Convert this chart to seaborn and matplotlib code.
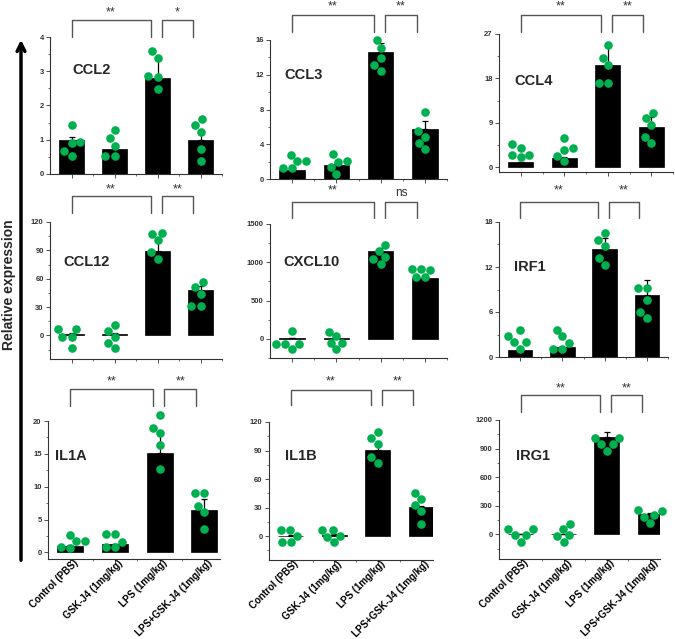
import numpy as np
import pandas as pd
import matplotlib
matplotlib.use("Agg")
import matplotlib.pyplot as plt
import seaborn as sns
from matplotlib.ticker import MultipleLocator, FixedLocator
from matplotlib.transforms import blended_transform_factory, ScaledTranslation

# ---------------- data ----------------
groups = ["Control (PBS)", "GSK-J4 (1mg/kg)", "LPS (1mg/kg)", "LPS+GSK-J4 (1mg/kg)"]
genes = ["CCL2", "CCL3", "CCL4", "CCL12", "CXCL10", "IRF1", "IL1A", "IL1B", "IRG1"]

CCL2_mean = [1.0, 0.74, 2.80, 0.98]
CCL2_err = [0.07, 0.03, 0.54, 0.19]
CCL2_pts = [[1.43, 0.93, 0.90, 0.68, 0.53], [1.29, 1.05, 0.83, 0.54, 0.53],
            [3.59, 3.40, 2.86, 2.84, 2.48], [1.60, 1.44, 1.24, 0.73, 0.37]]

CCL3_mean = [1.0, 1.58, 14.6, 5.73]
CCL3_err = [0.1, 0.2, 1.1, 0.92]
CCL3_pts = [[2.8, 2.1, 2.08, 1.3, 1.27], [2.85, 2.08, 2.0, 1.38, 0.58],
            [16.0, 15.1, 13.9, 13.1, 12.46], [7.73, 5.54, 4.85, 4.15, 3.42]]

CCL4_mean = [0.95, 1.84, 20.8, 8.16]
CCL4_err = [0.1, 0.3, 3.55, 1.9]
CCL4_pts = [[4.6, 3.9, 2.5, 2.5, 2.0], [5.8, 3.9, 3.4, 2.3, 1.16],
            [24.7, 22.2, 20.7, 17.1, 17.1], [11.0, 9.9, 8.5, 6.1, 4.8]]

CCL12_mean = [1.0, 1.0, 89.7, 47.9]
CCL12_err = [1.0, 1.0, 9.2, 4.5]
CCL12_pts = [[6.3, 6.3, -1.4, -1.4, -13.7], [10.6, 4.6, -1.4, -7.7, -13.7],
             [108.4, 107.7, 100.6, 88.0, 81.3], [56.7, 51.4, 44.0, 31.0, 31.0]]

CXCL10_mean = [5, 5, 1143, 791]
CXCL10_err = [5, 5, 40, 15]
CXCL10_pts = [[109, -65, -65, -65, -135], [96, 39, -48, -48, -135],
              [1226, 1148, 1074, 1039, 978], [913, 913, 900, 804, 804]]

IRF1_mean = [0.93, 1.29, 14.44, 8.22]
IRF1_err = [0.1, 0.1, 1.43, 2.08]
IRF1_pts = [[3.64, 2.76, 1.96, 1.96, 1.07], [3.64, 2.76, 1.87, 1.07, 1.07],
            [16.5, 15.6, 14.76, 13.2, 12.3], [9.2, 9.2, 7.6, 6.0, 5.2]]

IL1A_mean = [1.02, 1.22, 15.08, 6.45]
IL1A_err = [0.1, 0.1, 3.02, 1.62]
IL1A_pts = [[2.64, 1.78, 1.73, 0.86, 0.71], [2.74, 2.74, 1.62, 0.86, 0.86],
            [20.9, 19.0, 18.1, 16.4, 12.7], [9.1, 9.1, 7.1, 6.2, 3.5]]

IL1B_mean = [0.7, 1.4, 90.7, 30.7]
IL1B_err = [0.5, 0.5, 6.0, 1.0]
IL1B_pts = [[6.35, 6.35, 0.35, -6.35, -6.35], [6.7, 6.7, 0.7, -0.35, -6.35],
            [109.4, 103.1, 96.7, 83.0, 77.3], [45.5, 38.8, 32.5, 26.1, 12.4]]

IRG1_mean = [0, 0, 1025, 213]
IRG1_err = [5, 5, 53, 10]
IRG1_pts = [[52, 52, -7, -7, -77], [108, 52, -7, -17, -77],
            [1008, 1008, 945, 945, 875], [255, 245, 200, 182, 119]]

y_limits = [(0, 4), (0, 16), (-1, 27), (-25, 120), (-250, 1500), (0, 18),
            (-1, 20), (-25, 120), (-260, 1200)]
y_steps = [1, 4, 9, 30, 500, 6, 5, 30, 300]
sig_labels = [["**", "*"], ["**", "**"], ["**", "**"], ["**", "**"], ["**", "ns"],
              ["**", "**"], ["**", "**"], ["**", "**"], ["**", "**"]]

means = [CCL2_mean, CCL3_mean, CCL4_mean, CCL12_mean, CXCL10_mean, IRF1_mean,
         IL1A_mean, IL1B_mean, IRG1_mean]
errs = [CCL2_err, CCL3_err, CCL4_err, CCL12_err, CXCL10_err, IRF1_err,
        IL1A_err, IL1B_err, IRG1_err]
pts = [CCL2_pts, CCL3_pts, CCL4_pts, CCL12_pts, CXCL10_pts, IRF1_pts,
       IL1A_pts, IL1B_pts, IRG1_pts]

# ---------------- layout (pixels) ----------------
W, H = 675, 639
rects = [(50, 37, 222, 174), (270, 40, 447, 179), (499, 34, 673, 172),
         (50, 222, 222, 359), (270, 224, 447, 358), (499, 222, 668, 357),
         (48, 421, 220, 559), (269, 422, 433, 560), (499, 420, 660, 559)]
x_right = [3.5, 3.5, 3.5, 3.5, 3.5, 3.5, 3.35, 3.27, 3.23]
brackets = [(10, 20, 37), (4, 15, 32), (4, 15, 32),
            (187, 196, 213), (188, 202, 218), (188, 202, 218),
            (379, 389, 406), (379, 390, 405), (386, 395, 412)]
label_pos = [(0.13, 0.76), (0.08, 0.75), (0.086, 0.66),
             (0.077, 0.71), (0.073, 0.72), (0.09, 0.67),
             (0.04, 0.75), (0.10, 0.75), (0.105, 0.74)]

sns.set_style("ticks")
plt.rcParams["font.family"] = ["Liberation Sans", "DejaVu Sans"]

fig = plt.figure(figsize=(W / 100, H / 100), dpi=100)
GREEN = "#00B050"
DARK = "#333333"
label_shift = ScaledTranslation(6 / 100, 6 / 100, fig.dpi_scale_trans)

for i, gene in enumerate(genes):
    l, t, r, b = rects[i]
    ax = fig.add_axes([l / W, 1 - b / H, (r - l) / W, (b - t) / H])
    sns.barplot(x=groups, y=means[i], order=groups, color="black", saturation=1,
                width=0.58, errorbar=None, edgecolor="black", linewidth=0.5, ax=ax)
    centers = [p.get_x() + p.get_width() / 2 for p in ax.patches]
    ax.errorbar(centers, means[i], yerr=[np.zeros(4), errs[i]], fmt="none",
                ecolor="black", elinewidth=0.9, capsize=2.2, capthick=0.9, zorder=2)
    df = pd.DataFrame({"g": np.repeat(groups, 5), "v": np.concatenate(pts[i])})
    sns.swarmplot(data=df, x="g", y="v", order=groups, color=GREEN, size=6.2,
                  linewidth=0, ax=ax, zorder=3, warn_thresh=1)
    for c in ax.collections:
        c.set_clip_on(False)

    ax.set_xlim(-0.5, x_right[i])
    ax.set_ylim(*y_limits[i])
    ax.yaxis.set_major_locator(MultipleLocator(y_steps[i]))
    ax.yaxis.set_minor_locator(MultipleLocator(y_steps[i] / 2))
    ax.set_xticks(range(4))
    ax.xaxis.set_minor_locator(FixedLocator([0.5, 1.5, 2.5, 3.5]))
    ax.set_xlabel("")
    ax.set_ylabel("")
    for s in ["top", "right"]:
        ax.spines[s].set_visible(False)
    for s in ["left", "bottom"]:
        ax.spines[s].set_linewidth(0.8)
        ax.spines[s].set_color(DARK)
    ax.tick_params(which="major", length=3, width=0.6, color=DARK,
                   labelsize=5.5, labelcolor=DARK, pad=1.5)
    ax.tick_params(which="minor", length=1.6, width=0.5, color=DARK)
    for lab in ax.get_yticklabels():
        lab.set_fontweight("bold")
    if i >= 6:
        ax.set_xticklabels(groups, rotation=45, ha="right", va="center",
                           rotation_mode="anchor", fontsize=7,
                           fontweight="bold", color="black")
        ax.tick_params(axis="x", which="major", pad=3)
        for lab in ax.get_xticklabels():
            lab.set_transform(lab.get_transform() + label_shift)
    else:
        ax.set_xticklabels([])

    ax.text(label_pos[i][0], label_pos[i][1], gene, transform=ax.transAxes,
            fontsize=10.5, fontweight="bold", ha="left", va="center")

    trans = blended_transform_factory(ax.transData, fig.transFigure)
    sy, ty, by = brackets[i]
    for (x0, x1), lab in zip([(0.0, 1.84), (2.1, 2.82)], sig_labels[i]):
        ax.plot([x0, x0, x1, x1], [1 - by / H, 1 - ty / H, 1 - ty / H, 1 - by / H],
                color="#555555", lw=1.0, transform=trans, clip_on=False)
        is_ns = lab == "ns"
        ax.text((x0 + x1) / 2, 1 - (sy + (5 if is_ns else 2)) / H, lab,
                transform=trans, ha="center", va="center",
                fontsize=8.5 if is_ns else 9, color=DARK)

fig.text(9 / W, 1 - 285 / H, "Relative expression", rotation=90, fontsize=10,
         fontweight="bold", ha="center", va="center")
fig.add_artist(matplotlib.patches.FancyArrowPatch(
    (21 / W, 1 - 563 / H), (21 / W, 1 - 37 / H), transform=fig.transFigure,
    arrowstyle="->", mutation_scale=14, lw=2.5, color="black"))

fig.savefig("out.png", dpi=100)
